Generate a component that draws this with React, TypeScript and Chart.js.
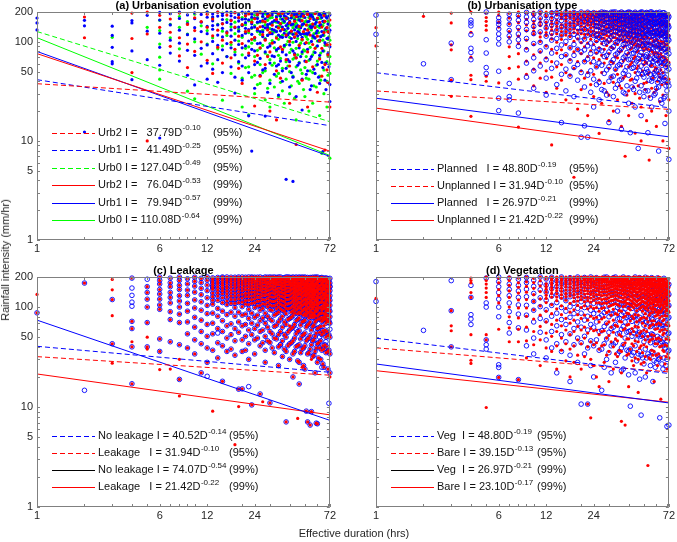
import React, { useEffect, useRef } from 'react';
import { Chart, registerables } from 'chart.js';

Chart.register(...registerables);

const FONT = "'Liberation Sans', Arial, Helvetica, sans-serif";
const TEXT = '#262626';
const FRAME = '#808080';
const RED = '#ff0000';
const BLUE = '#0000ff';
const GREEN = '#00ff00';

// Axis ticks (log–log)
const durationTicks = [1, 6, 12, 24, 72];
const durationMarks = [1, 2, 3, 4, 5, 6, 7, 8, 9, 10, 12, 20, 24, 30, 40, 50, 60, 70, 72];
const intensityTicks = [1, 5, 10, 50, 100, 200];
const intensityMarks = [1, 2, 3, 4, 5, 6, 7, 8, 9, 10, 20, 30, 40, 50, 60, 70, 80, 90, 100, 200];

// Each row: [duration (hrs), intensity values (mm/hr)...]
type Row = number[];

// (a) Urbanisation evolution
const urb2Rows: Row[] = [
  [2, 178, 110], [4, 195, 108, 49], [5, 200, 120, 10], [6, 185, 140], [7, 170, 125, 90],
  [8, 195, 110, 72], [9, 150, 95, 55], [10, 175, 130, 80], [11, 160, 100], [12, 190, 140, 65],
  [13, 170, 115, 48], [14, 199, 131, 88], [15, 152, 104, 61], [16, 186, 123], [17, 164, 99, 69],
  [18, 197, 141, 84], [19, 176, 114, 54], [20, 149, 96, 38], [21, 183, 127], [22, 191, 129, 77],
  [23, 158, 106], [24, 171, 111, 22.5, 64], [25, 188, 136, 73], [26, 199, 142, 87, 45],
  [27, 162, 118], [28, 159, 104, 59], [29, 181, 132, 71], [30, 186, 124, 20, 79],
  [31, 147, 97], [33, 169, 109, 51, 16.3], [34, 192, 138], [35, 153, 89, 43], [36, 194, 134, 84],
  [38, 173, 117, 66], [40, 156, 101, 57, 24], [41, 185, 128], [43, 161, 112, 74], [44, 179, 121, 9.2, 69],
  [46, 196, 143, 92], [48, 164, 106, 41], [49, 182, 127], [51, 148, 98, 63], [52, 189, 131, 79, 22],
  [54, 171, 117], [56, 151, 94, 56], [58, 193, 139, 86], [60, 174, 114, 31], [62, 157, 103, 67],
  [64, 141, 86, 45], [66, 184, 124], [67, 161, 8.1, 59], [69, 139, 93, 52], [70, 126, 74, 39],
  [72, 166, 94, 22],
];
const urb1Rows: Row[] = [
  [1, 174, 155, 132], [2, 165, 145, 12.3], [3, 144, 116, 88, 63, 60], [4, 164, 155, 81, 41.5],
  [5, 185, 128, 66], [6, 198, 166, 122, 88, 58, 10.7], [7, 192, 148, 104, 77], [8, 200, 172, 131, 97, 64],
  [9, 187, 153, 118, 82, 46], [10, 196, 171, 139, 107, 73, 36.7], [11, 189, 158, 127, 86, 57],
  [12, 200, 177, 143, 121, 93, 61, 42], [13, 191, 163, 134, 101, 76, 53], [14, 199, 182, 148, 117, 92, 66, 39],
  [15, 194, 168, 137, 112, 83, 49], [16, 200, 157, 126, 96, 71], [17, 183, 151, 114, 87, 56],
  [18, 197, 176, 139, 104, 74, 44, 30.4], [19, 188, 162, 128, 94, 63], [20, 200, 169, 146, 116, 87, 57, 41],
  [21, 184, 156, 122, 91, 69], [22, 199, 167, 133, 102, 73, 49, 17.9], [23, 190, 152, 119, 84, 7.9],
  [24, 200, 174, 141, 109, 81, 59, 34], [25, 187, 158, 96, 62], [26, 196, 161, 127, 97, 68, 46],
  [27, 181, 143, 113, 52], [28, 200, 171, 138, 106, 79, 54, 17.8], [29, 192, 149, 88, 31],
  [30, 186, 152, 121, 91, 61, 38], [31, 198, 134, 72], [32, 200, 164, 131, 99, 71, 47],
  [33, 178, 142, 83, 57], [34, 191, 157, 117, 86, 59, 29], [35, 196, 129, 64],
  [36, 200, 169, 141, 111, 79, 51, 40], [37, 184, 122, 92], [38, 179, 146, 113, 74, 54, 4.1],
  [39, 193, 137, 66], [40, 197, 161, 124, 93, 63, 35], [41, 175, 108, 49], [42, 200, 151, 119, 81, 44, 3.9],
  [43, 188, 132, 76], [44, 186, 141, 101, 69, 28], [45, 194, 115, 58], [46, 200, 166, 124, 87, 61],
  [47, 181, 139, 71], [48, 191, 149, 111, 79, 42, 20.5], [50, 176, 134, 96, 64], [51, 197, 121, 47],
  [52, 200, 159, 119, 84, 51], [54, 182, 143, 67, 33], [55, 187, 139, 101, 71, 36], [57, 168, 112, 53],
  [58, 195, 151, 109, 78, 48], [60, 171, 129, 91, 59], [61, 189, 102, 44], [62, 190, 146, 104, 73, 38],
  [64, 176, 127, 62], [65, 161, 117, 81, 55, 7.8], [67, 193, 98, 41], [68, 179, 136, 94, 61, 33],
  [70, 151, 109, 76, 39], [71, 183, 124, 56], [72, 188, 131, 89, 37, 25],
];
const urb1UpperRows: Row[] = [
  [13, 178, 146], [15, 184, 153], [17, 197, 166, 132], [19, 174, 141], [21, 196, 170, 137], [23, 177, 139],
  [25, 199, 172, 131], [27, 193, 164, 126], [29, 178, 139, 116], [31, 187, 158, 121], [33, 197, 163, 127],
  [35, 181, 151, 112], [37, 198, 161, 133], [39, 172, 153, 118], [41, 191, 148, 128], [43, 199, 166, 111],
  [45, 179, 146, 127], [47, 198, 162, 119], [49, 186, 152, 121], [53, 191, 161, 124], [56, 178, 144, 115],
  [59, 196, 158, 122], [63, 186, 149, 113], [66, 197, 162, 126], [69, 174, 139, 108],
];
const urb0Rows: Row[] = [
  [3, 111], [5, 140], [6, 165, 130, 95, 70, 52, 42], [7, 150, 110], [8, 180, 140, 85], [9, 160, 120, 31.8],
  [10, 190, 100, 26.6], [11, 145, 75], [12, 200, 130, 95], [13, 175, 110, 60], [14, 150, 85],
  [15, 195, 128, 91, 25.8], [16, 168, 116, 71], [17, 200, 142, 94, 48], [18, 158, 121, 79],
  [19, 189, 134, 102, 61], [20, 176, 148, 111, 74, 43, 22], [21, 193, 127, 86, 55],
  [22, 199, 163, 124, 89, 56, 18.3], [23, 171, 137, 97, 44], [24, 186, 146, 104, 71, 46, 30],
  [25, 197, 155, 82, 37], [26, 200, 158, 119, 86, 59, 38], [27, 178, 131, 92, 49],
  [28, 191, 149, 108, 77, 51, 26], [29, 165, 117, 73, 34], [30, 174, 136, 96, 66, 41, 22],
  [31, 196, 152, 103, 58], [32, 199, 161, 126, 87, 61, 35], [33, 182, 128, 81, 45],
  [34, 186, 144, 106, 73, 48, 28], [35, 170, 113, 68, 39], [36, 194, 156, 116, 83, 54, 32],
  [37, 177, 132, 89, 24], [38, 169, 129, 94, 63, 42], [39, 198, 143, 101, 57],
  [40, 200, 151, 111, 78, 50, 30], [41, 173, 122, 84, 36], [42, 181, 139, 99, 67, 45],
  [43, 192, 147, 69, 27], [44, 195, 154, 119, 86, 56, 16.3], [45, 166, 108, 74, 40],
  [46, 171, 131, 93, 62, 38], [47, 188, 141, 97, 52], [48, 189, 146, 104, 76, 48],
  [49, 177, 125, 83, 33], [50, 200, 159, 117, 81, 55, 28], [51, 163, 112, 71, 43],
  [53, 176, 136, 97, 65, 42, 20], [54, 192, 148, 88, 51], [56, 189, 151, 109, 74, 49, 24],
  [57, 171, 121, 79, 36], [59, 166, 126, 89, 58, 35], [60, 198, 143, 102, 64],
  [62, 184, 139, 101, 69, 45, 18], [63, 172, 114, 77, 41], [64, 7.5], [66, 156, 116, 81, 52, 30],
  [67, 187, 133, 92, 61], [69, 174, 129, 93, 63, 40, 22], [70, 161, 106, 72, 46],
  [72, 146, 104, 71, 60, 48, 6.7],
];
const urb0UpperRows: Row[] = [
  [21, 171, 149], [23, 194, 161], [25, 176, 127], [27, 196, 159], [29, 187, 142], [31, 176, 129],
  [33, 199, 158, 112], [35, 188, 142], [37, 197, 157], [39, 174, 121], [41, 193, 151], [43, 172, 121],
  [45, 189, 138], [47, 167, 119], [49, 199, 152], [52, 188, 147, 106], [55, 179, 132], [58, 194, 151, 111],
  [61, 172, 124], [65, 191, 146, 104], [68, 182, 137], [71, 195, 151, 112],
];

// (b) Urbanisation type
const plannedRows: Row[] = [
  [1, 186, 119], [2, 60], [3, 97, 41.5], [4, 165, 155, 145, 118, 86, 78, 66], [5, 200, 105, 77, 55, 48],
  [6, 175, 160, 150, 135, 120, 108, 95, 50.5, 27, 20.2], [7, 190, 170, 150, 130, 115, 100, 38, 28, 26],
  [8, 185, 165, 140, 120, 105, 90, 19.1], [9, 198, 178, 157, 133, 108, 83, 61, 44],
  [10, 191, 168, 143, 121, 96, 69, 51, 34], [11, 200, 174, 151, 126, 99, 81, 57],
  [12, 184, 161, 138, 114, 89, 66, 43, 29], [13, 196, 172, 148, 123, 104, 77, 54],
  [14, 199, 179, 156, 131, 108, 86, 61, 37], [15, 188, 164, 141, 117, 93, 71, 47, 15.3],
  [16, 200, 176, 148, 127, 101, 74, 53, 32], [17, 186, 159, 134, 111, 87, 64, 45],
  [18, 198, 171, 146, 119, 94, 73, 55, 28], [19, 191, 166, 139, 112, 84, 59, 41],
  [20, 200, 178, 154, 128, 102, 79, 49, 10.9], [21, 183, 161, 133, 107, 83, 63, 35, 14.2],
  [22, 199, 169, 144, 117, 91, 67, 46, 10.9], [23, 192, 164, 126, 97, 76, 51, 31],
  [24, 197, 174, 149, 116, 87, 63, 42, 22], [25, 186, 158, 131, 103, 79, 56, 37],
  [26, 194, 169, 141, 111, 84, 61, 39, 26], [27, 200, 176, 137, 106, 81, 58, 33],
  [28, 198, 181, 153, 124, 96, 71, 48, 32], [29, 183, 157, 128, 99, 73, 52, 29],
  [30, 191, 159, 132, 104, 79, 56, 40, 15.3], [31, 199, 171, 141, 113, 86, 62, 44],
  [32, 200, 174, 146, 116, 89, 66, 45, 28], [33, 187, 158, 127, 98, 74, 53, 34],
  [34, 186, 161, 129, 101, 77, 57, 37, 20], [35, 196, 168, 137, 107, 82, 59, 41],
  [36, 200, 171, 139, 109, 86, 63, 42, 13.1], [37, 184, 153, 122, 94, 69, 48, 31],
  [38, 191, 156, 124, 96, 72, 51, 30], [39, 197, 166, 134, 104, 78, 56, 36],
  [40, 200, 174, 144, 113, 88, 66, 46, 24], [41, 181, 149, 119, 91, 67, 12.1],
  [42, 186, 159, 128, 99, 76, 54, 35], [43, 194, 164, 131, 102, 77, 55, 33],
  [44, 199, 169, 141, 107, 83, 61, 40, 22], [45, 178, 146, 116, 87, 64, 43],
  [46, 191, 151, 117, 91, 68, 48, 8.4], [47, 196, 162, 129, 98, 73, 51, 31],
  [48, 200, 166, 134, 103, 78, 57, 36, 18], [49, 183, 151, 121, 92, 68, 47],
  [50, 181, 144, 113, 86, 62, 44, 28], [51, 193, 158, 126, 96, 71, 49, 32],
  [52, 198, 163, 128, 99, 74, 53], [53, 195, 159, 124, 94, 70, 50, 32, 12.1],
  [54, 176, 142, 112, 84, 61, 41], [55, 189, 154, 121, 92, 67, 47, 27],
  [56, 200, 169, 136, 104, 79, 58, 40, 22], [57, 182, 148, 116, 87, 63, 43],
  [58, 193, 157, 123, 93, 69, 48, 29], [59, 186, 151, 117, 89, 66, 46, 30],
  [60, 197, 161, 128, 97, 73, 51, 34], [61, 178, 143, 111, 83, 60, 39],
  [62, 194, 159, 126, 94, 71, 52, 35, 7.9], [63, 183, 147, 115, 86, 62, 42],
  [64, 190, 154, 121, 91, 66, 45, 26], [65, 174, 141, 109, 81, 58, 40, 24],
  [66, 196, 157, 123, 93, 68, 47], [67, 181, 145, 113, 84, 61, 41, 27],
  [68, 189, 151, 116, 86, 63, 44, 28, 15], [69, 171, 137, 106, 79, 56, 36],
  [70, 166, 131, 99, 73, 51, 32], [71, 185, 148, 114, 83, 59, 39],
  [72, 179, 141, 104, 76, 53, 36, 20, 6.5],
];
const plannedUpperRows: Row[] = [
  [25, 172, 144, 117], [27, 188, 157, 121], [29, 196, 170, 142], [31, 185, 155, 127], [33, 200, 172, 141],
  [35, 181, 152, 122], [37, 195, 167, 137], [39, 183, 151, 120], [41, 198, 166, 134], [43, 178, 148, 117],
  [45, 192, 161, 130], [47, 181, 148, 115], [49, 199, 167, 134], [51, 176, 142, 111], [53, 185, 152, 119],
  [55, 200, 169, 135], [57, 192, 159, 125], [59, 171, 139, 107], [61, 189, 156, 122], [63, 199, 164, 131],
  [65, 186, 153, 120], [67, 197, 163, 128], [69, 190, 155, 121], [71, 172, 138, 106],
];
const unplannedRows: Row[] = [
  [1, 139, 91], [2, 181], [3, 195, 155, 93, 83, 41, 28.2], [4, 200, 125, 70, 46, 41.5, 17.7],
  [5, 195, 176, 161, 146, 131, 45, 40], [6, 200, 186, 158, 141, 38.5],
  [7, 194, 174, 152, 127, 111, 89, 71, 54], [8, 199, 181, 156, 133, 114, 96, 76, 56, 42, 13.8],
  [9, 196, 169, 148, 129, 104, 86, 64, 47], [10, 200, 184, 161, 139, 119, 94, 74, 53, 36],
  [11, 191, 171, 146, 123, 101, 79, 61, 43], [12, 199, 179, 158, 137, 116, 91, 69, 51, 31],
  [13, 194, 176, 152, 131, 107, 84, 63, 44, 9.1], [14, 200, 186, 166, 143, 121, 99, 77, 56, 34],
  [15, 189, 171, 149, 127, 106, 83, 59, 41], [16, 198, 181, 162, 139, 117, 94, 73, 49, 26],
  [17, 193, 174, 156, 134, 113, 87, 66, 46], [18, 200, 184, 164, 146, 124, 101, 79, 54, 4.3],
  [19, 191, 169, 151, 131, 107, 84, 63, 21], [20, 199, 186, 166, 144, 121, 98, 76, 51, 33],
  [21, 196, 176, 154, 133, 109, 89, 64, 43], [22, 200, 183, 167, 147, 119, 97, 71, 49, 18],
  [23, 189, 172, 149, 127, 106, 81, 61, 37], [24, 198, 184, 163, 141, 117, 94, 69, 47, 28],
  [25, 194, 177, 151, 124, 101, 77, 56], [26, 200, 186, 161, 137, 113, 87, 66, 41, 11.9],
  [27, 191, 169, 144, 121, 96, 73, 49, 24], [28, 199, 181, 156, 131, 109, 84, 61, 38],
  [29, 187, 163, 139, 116, 92, 68, 31], [30, 196, 176, 149, 126, 99, 76, 54, 29, 16],
  [31, 200, 171, 142, 118, 88, 63, 44], [32, 198, 184, 159, 134, 111, 86, 61, 39, 20],
  [33, 189, 167, 147, 122, 97, 71, 52], [34, 192, 171, 144, 119, 94, 69, 47, 26],
  [35, 199, 178, 153, 128, 104, 79, 36], [36, 200, 181, 156, 129, 106, 81, 57, 34, 14],
  [37, 186, 162, 137, 113, 88, 64, 43], [38, 194, 169, 146, 117, 91, 67, 45, 7.0],
  [39, 199, 176, 151, 123, 99, 74, 29], [40, 200, 179, 154, 127, 103, 77, 56, 32, 18],
  [41, 188, 164, 136, 109, 84, 59, 41], [42, 191, 166, 141, 113, 87, 62, 42, 24],
  [43, 197, 173, 147, 121, 93, 68, 35], [44, 200, 176, 149, 123, 97, 71, 49, 30, 12],
  [45, 184, 158, 131, 103, 79, 54], [46, 186, 161, 133, 106, 81, 57, 36],
  [47, 196, 171, 144, 116, 89, 65, 27], [48, 199, 174, 147, 119, 93, 67, 46, 22, 10],
  [49, 181, 154, 127, 99, 74, 51], [50, 191, 164, 136, 107, 82, 59, 38],
  [51, 197, 168, 141, 114, 88, 63, 33], [52, 200, 171, 143, 111, 85, 61, 39, 16],
  [53, 183, 152, 124, 96, 69, 47], [54, 186, 156, 126, 97, 73, 49, 28, 6.4],
  [55, 194, 166, 137, 108, 83, 57], [56, 199, 169, 139, 109, 81, 58, 34, 20],
  [57, 178, 148, 119, 92, 66, 43], [58, 191, 161, 129, 101, 74, 51, 31],
  [59, 196, 164, 133, 104, 78, 55], [60, 200, 166, 134, 106, 77, 54, 33, 14],
  [61, 181, 149, 117, 89, 63, 40], [62, 189, 157, 126, 97, 71, 48],
  [63, 186, 151, 121, 91, 67, 44, 25], [64, 197, 163, 131, 102, 76, 52],
  [65, 176, 144, 113, 84, 59, 37], [66, 194, 161, 127, 99, 71, 49, 29, 10],
  [67, 183, 149, 118, 89, 63], [68, 191, 156, 124, 94, 68, 43],
  [69, 174, 141, 109, 81, 57, 38, 18], [70, 187, 153, 121, 91, 65],
  [71, 179, 144, 112, 84, 58, 39], [72, 189, 151, 116, 87, 62, 42, 26, 8.4],
];
const unplannedUpperRows: Row[] = [
  [10, 192, 151, 128], [11, 199, 158, 112], [12, 187, 147, 124], [13, 200, 163, 141, 118], [14, 191, 155, 132],
  [15, 197, 178, 138, 116], [16, 188, 171, 149, 127], [17, 199, 184, 146, 122], [18, 192, 173, 155, 135],
  [19, 196, 180, 160, 121], [20, 190, 176, 154, 132], [21, 200, 187, 164, 141, 119], [22, 193, 175, 156, 131],
  [23, 198, 181, 160, 138, 115], [24, 191, 173, 151, 128], [25, 200, 186, 163, 138, 112], [26, 194, 172, 149, 124],
  [27, 199, 181, 157, 132, 108], [28, 190, 168, 143, 119], [29, 198, 177, 151, 127, 104], [30, 187, 163, 138, 113],
  [31, 195, 183, 156, 129, 103], [32, 191, 172, 146, 122], [33, 199, 181, 158, 135, 110], [34, 184, 160, 132, 107],
  [35, 192, 167, 141, 116], [36, 197, 173, 147, 118], [37, 200, 176, 150, 126, 101], [38, 185, 158, 131, 105],
  [39, 192, 166, 140, 112], [40, 191, 167, 141, 115], [41, 198, 175, 150, 123, 97], [42, 182, 157, 128, 100],
  [43, 189, 162, 134, 108], [44, 193, 166, 137, 110], [45, 199, 173, 145, 117, 91], [46, 176, 148, 121, 94],
  [47, 188, 160, 131, 103], [48, 192, 162, 133, 106], [49, 197, 169, 141, 112, 87], [50, 179, 150, 122, 95],
  [52, 186, 157, 127, 99], [53, 196, 166, 137, 109, 84], [55, 181, 151, 122, 95], [57, 190, 160, 129, 101, 78],
  [59, 176, 146, 118, 90], [61, 194, 163, 132, 103, 77], [63, 171, 141, 113, 86], [65, 187, 156, 125, 97, 71],
  [67, 192, 161, 129, 100], [69, 182, 150, 121, 93, 69], [71, 193, 161, 128, 98],
];

// (c) Leakage: events recorded at both kinds of site, and at one kind only
const leakBothRows: Row[] = [
  [1, 87.6], [2, 174], [3, 119, 43], [4, 195, 72, 61, 40, 17.1], [5, 160, 140, 120, 100, 70, 40],
  [6, 200, 185, 170, 150, 135, 120, 105, 95, 48, 36], [7, 195, 175, 160, 140, 125, 110, 90, 75, 45],
  [8, 200, 185, 165, 150, 130, 115, 100, 85, 70, 42, 18.9], [9, 192, 171, 148, 131, 109, 91, 71, 54, 39],
  [10, 199, 181, 162, 141, 118, 98, 79, 63, 47, 34], [11, 194, 176, 154, 133, 113, 93, 74, 57, 43, 22],
  [12, 200, 186, 166, 146, 124, 104, 86, 67, 51, 39, 28], [13, 189, 169, 151, 127, 107, 87, 69, 54, 37],
  [14, 198, 179, 159, 139, 117, 97, 81, 61, 44, 31], [15, 196, 174, 156, 136, 111, 91, 73, 57, 41, 18.1],
  [16, 200, 184, 163, 144, 126, 106, 84, 65, 49, 36], [17, 191, 171, 149, 129, 109, 89, 68, 53, 38],
  [18, 199, 181, 161, 138, 119, 99, 81, 61, 46, 33], [19, 194, 174, 153, 131, 111, 89, 71, 56, 15.1],
  [20, 200, 184, 166, 146, 123, 101, 83, 65, 47, 36, 15.2], [21, 188, 169, 149, 127, 107, 85, 67, 51, 37],
  [22, 200, 181, 159, 137, 117, 95, 77, 59, 43, 30], [23, 196, 174, 153, 129, 109, 87, 69, 53, 10.5],
  [24, 199, 186, 164, 141, 121, 99, 79, 61, 47, 34], [25, 191, 169, 147, 125, 103, 83, 66, 49],
  [26, 200, 179, 157, 135, 115, 93, 73, 57, 41, 13.5], [27, 187, 163, 141, 119, 97, 78, 59, 44],
  [28, 194, 176, 151, 131, 107, 87, 69, 51, 37, 28], [29, 199, 169, 146, 122, 101, 81, 63, 46],
  [30, 200, 182, 161, 137, 116, 94, 76, 57, 44, 11], [31, 186, 163, 139, 114, 93, 73, 54, 39],
  [32, 191, 171, 147, 126, 103, 83, 64, 49, 35], [33, 198, 176, 152, 129, 106, 86, 66, 48],
  [34, 200, 179, 155, 133, 111, 89, 71, 53, 40, 26], [35, 189, 166, 141, 117, 96, 76, 57, 42],
  [36, 195, 173, 149, 127, 104, 81, 63, 46, 32], [37, 184, 161, 137, 113, 91, 71, 53, 38],
  [38, 200, 179, 154, 131, 107, 86, 67, 50, 36, 7.1], [39, 192, 167, 143, 119, 96, 75, 56, 41],
  [40, 189, 169, 144, 121, 97, 77, 59, 43, 30], [41, 197, 173, 149, 123, 99, 79, 61, 44],
  [42, 200, 177, 153, 127, 103, 82, 63, 46, 34, 20], [43, 183, 158, 134, 109, 87, 67, 49, 36],
  [44, 188, 164, 141, 116, 93, 73, 54, 40], [45, 196, 171, 146, 120, 97, 75, 57, 41, 29],
  [46, 200, 174, 151, 124, 101, 78, 58, 42, 28, 17], [47, 184, 159, 133, 108, 86, 66, 48, 35],
  [48, 191, 166, 139, 114, 91, 71, 52, 38], [49, 197, 169, 143, 117, 94, 72, 53, 39, 26],
  [50, 200, 173, 147, 121, 97, 74, 55, 41, 24], [51, 181, 154, 129, 104, 82, 63, 46, 9.1],
  [52, 186, 161, 134, 109, 87, 66, 48, 34, 7.1], [53, 193, 164, 138, 112, 89, 68, 49, 35],
  [54, 198, 171, 144, 118, 94, 71, 52, 38, 6.6], [55, 179, 152, 126, 101, 79, 59, 42, 9.0],
  [56, 189, 161, 133, 107, 84, 64, 46, 32], [57, 194, 166, 137, 111, 87, 66, 47, 33],
  [58, 200, 171, 146, 118, 92, 71, 51, 36, 22], [59, 176, 149, 122, 97, 74, 55, 39, 6.9],
  [60, 186, 157, 129, 104, 81, 61, 43, 28, 6.8], [61, 193, 163, 136, 108, 84, 62, 44, 31],
  [62, 181, 151, 124, 98, 76, 56, 39], [63, 196, 166, 139, 111, 86, 64, 46, 30],
  [64, 174, 146, 119, 94, 72, 53, 37], [65, 188, 158, 131, 103, 79, 58, 41, 27],
  [66, 180, 151, 123, 97, 75, 55, 38, 25], [67, 192, 161, 133, 105, 81, 59, 42],
  [68, 171, 143, 116, 91, 69, 50, 35], [69, 189, 159, 129, 101, 77, 57, 40],
  [70, 178, 147, 119, 93, 71, 52, 36, 24], [71, 184, 153, 124, 96, 73, 53, 37],
  [72, 174, 146, 117, 91, 69, 50, 34, 22],
];
const leakBothUpperRows: Row[] = [
  [13, 196, 178, 160, 138, 117], [14, 189, 170, 149, 129], [15, 200, 185, 165, 146, 124], [16, 192, 174, 154, 135, 115],
  [17, 199, 181, 160, 139, 119], [18, 191, 170, 150, 129, 109], [19, 200, 185, 164, 142, 121], [20, 192, 175, 156, 134, 112],
  [21, 199, 179, 158, 137, 116], [22, 191, 170, 148, 127, 106], [23, 200, 184, 163, 141, 119], [24, 193, 176, 153, 131, 110],
  [25, 199, 181, 158, 136, 114], [26, 190, 169, 147, 125, 104], [27, 196, 175, 152, 130, 108], [28, 200, 185, 163, 141, 118],
  [29, 191, 178, 157, 133, 111], [30, 193, 171, 149, 127, 105], [31, 199, 175, 152, 126, 103], [32, 200, 181, 159, 136, 114],
  [33, 188, 166, 141, 117, 96], [34, 191, 168, 144, 122, 100], [35, 200, 178, 154, 129, 107], [36, 186, 161, 138, 115, 93],
  [37, 197, 173, 149, 125, 102], [38, 191, 167, 142, 119, 97], [39, 200, 180, 155, 131, 108], [40, 199, 179, 155, 132, 109],
  [41, 186, 162, 136, 111, 89], [42, 190, 165, 140, 116, 92], [43, 196, 171, 146, 122, 98], [44, 200, 176, 152, 127, 104],
  [45, 185, 159, 133, 109, 86], [46, 190, 163, 137, 112, 89], [47, 197, 171, 146, 121, 97], [48, 200, 177, 152, 126, 103],
  [49, 184, 156, 130, 106, 83], [50, 190, 161, 134, 109, 86], [51, 195, 168, 141, 116, 92], [52, 198, 173, 147, 121, 97],
  [53, 182, 152, 125, 100, 78], [54, 189, 158, 131, 106, 83], [55, 196, 167, 140, 113, 89], [56, 199, 174, 146, 120, 96],
  [57, 184, 153, 127, 101, 79], [58, 190, 161, 133, 106, 82], [59, 197, 169, 141, 115, 90], [60, 200, 172, 144, 117, 93],
  [61, 181, 151, 124, 98, 76], [62, 194, 164, 136, 111, 87], [63, 186, 154, 127, 100, 78], [64, 198, 168, 140, 113, 88],
  [65, 177, 149, 121, 96, 74], [66, 195, 165, 137, 110, 86], [67, 183, 152, 125, 99, 77], [68, 196, 164, 136, 109, 85],
  [69, 178, 147, 120, 95, 73], [70, 193, 161, 131, 105, 82], [71, 171, 141, 114, 90, 70], [72, 194, 160, 130, 104, 80],
];
const noLeakOnlyRows: Row[] = [
  [2, 14.7], [4, 155, 131, 112, 102], [5, 190], [12, 20.3], [13, 160], [14, 55], [22, 16], [28, 75],
  [35, 42], [44, 60], [50, 80], [62, 50], [64, 25], [68, 45], [71, 10.9], [72, 160, 60],
];
const leakOnlyRows: Row[] = [
  [1, 134], [3, 189, 149, 82, 27.5], [4, 45], [5, 50, 38], [6, 23.7], [7, 24], [8, 12.9, 30], [13, 9.1],
  [18, 4.2], [19, 10.1], [27, 11.3], [30, 45], [40, 65], [45, 7.7], [48, 25], [55, 30], [60, 110],
  [66, 65], [72, 105, 80, 20],
];

// (d) Vegetation
const vegRows: Row[] = [
  [1, 180, 114], [2, 58.5], [3, 184, 92, 40], [4, 165, 125, 84, 76, 67], [5, 195, 110, 100, 47, 42, 38],
  [6, 200, 180, 160, 140, 120, 100, 80, 26.5, 24.9, 19.8], [7, 195, 170, 150, 130, 110, 90, 70, 55],
  [8, 190, 165, 145, 125, 105, 85, 62, 18.8], [9, 198, 176, 151, 127, 104, 83, 59, 41],
  [10, 186, 161, 137, 114, 93, 71, 49, 34], [11, 200, 173, 149, 124, 101, 77, 56],
  [12, 191, 166, 141, 117, 94, 73, 47, 31], [13, 199, 177, 153, 129, 104, 81, 57, 39],
  [14, 184, 161, 134, 111, 87, 65, 43, 22], [15, 200, 174, 149, 126, 99, 75, 53, 36],
  [16, 189, 164, 139, 116, 91, 67, 45], [17, 197, 177, 151, 127, 101, 79, 54, 33, 18],
  [18, 186, 159, 136, 109, 86, 61, 42], [19, 200, 173, 147, 121, 97, 71, 49, 28],
  [20, 191, 164, 139, 113, 87, 63, 44, 10.7], [21, 198, 177, 151, 123, 99, 74, 51, 34],
  [22, 184, 159, 131, 107, 81, 59, 39, 10.7], [23, 200, 171, 146, 117, 93, 67, 46, 26],
  [24, 189, 166, 137, 109, 86, 63, 41, 20], [25, 197, 174, 149, 121, 94, 71, 47],
  [26, 183, 156, 129, 102, 79, 57, 37], [27, 191, 163, 134, 107, 83, 58, 38, 14.7],
  [28, 199, 170, 143, 114, 88, 64, 43, 25], [29, 200, 176, 147, 119, 93, 69, 48, 30],
  [30, 186, 161, 131, 104, 80, 56, 35], [31, 189, 164, 137, 111, 85, 61, 41, 22],
  [32, 197, 169, 141, 113, 87, 63, 42], [33, 200, 173, 146, 117, 91, 67, 44, 28],
  [34, 181, 154, 127, 99, 76, 54, 34], [35, 186, 157, 131, 103, 77, 55, 36],
  [36, 194, 166, 138, 109, 84, 60, 39, 23], [37, 200, 171, 141, 113, 89, 64, 42, 24],
  [38, 178, 149, 121, 96, 71, 49, 31], [39, 191, 159, 131, 103, 79, 56, 37],
  [40, 196, 164, 134, 106, 81, 57, 36, 21], [41, 188, 161, 133, 104, 79, 58, 38, 10.2],
  [42, 181, 151, 123, 97, 72, 51, 33], [43, 193, 163, 133, 105, 79, 55, 35],
  [44, 200, 167, 137, 111, 83, 59, 41, 22], [45, 176, 147, 118, 93, 69, 47, 29],
  [46, 189, 158, 128, 101, 76, 53, 34], [47, 197, 164, 133, 104, 79, 56, 36, 19],
  [48, 184, 154, 127, 97, 73, 51, 33, 8.3], [49, 192, 159, 129, 101, 75, 52, 31],
  [50, 173, 143, 116, 89, 66, 45, 27], [51, 199, 166, 136, 107, 81, 58, 38, 20],
  [52, 187, 154, 124, 96, 71, 49, 31], [53, 194, 161, 131, 101, 76, 53, 34],
  [54, 181, 149, 119, 93, 69, 49, 32], [55, 171, 141, 113, 87, 64, 44, 26],
  [56, 197, 163, 131, 102, 77, 54, 36], [57, 193, 161, 129, 101, 75, 53, 35, 18],
  [58, 184, 151, 121, 93, 69, 48, 29], [59, 169, 139, 111, 85, 62, 42, 25],
  [60, 181, 147, 117, 89, 65, 45, 28], [61, 196, 161, 128, 99, 73, 51, 33],
  [62, 187, 153, 122, 94, 69, 47, 30], [63, 191, 157, 125, 97, 71, 49, 31, 7.8],
  [64, 172, 141, 112, 86, 62, 43], [65, 183, 149, 118, 91, 66, 45, 27],
  [66, 176, 143, 111, 85, 61, 41, 24], [67, 194, 158, 125, 95, 70, 48, 31],
  [68, 167, 134, 105, 80, 57, 39], [69, 181, 147, 115, 87, 63, 42, 26],
  [70, 187, 151, 119, 91, 67, 45, 30, 6.4], [71, 163, 131, 102, 77, 54, 36],
  [72, 169, 134, 104, 79, 55, 37, 6.6],
];
const bareRows: Row[] = [
  [1, 122], [3, 92, 65, 58, 40], [4, 195, 185, 175, 140, 125, 53, 29.4, 27.3],
  [5, 200, 185, 170, 155, 140, 125, 53, 47, 9.9], [6, 195, 175, 150, 130, 110, 60, 19.8],
  [7, 200, 185, 165, 145, 125, 100, 80, 62, 45], [8, 195, 175, 158, 138, 118, 98, 78, 60, 45, 18.8],
  [9, 199, 179, 161, 141, 119, 98, 81, 63, 46, 31], [10, 194, 176, 154, 133, 114, 94, 76, 57, 42],
  [11, 200, 183, 163, 143, 121, 103, 83, 64, 47, 26], [12, 191, 171, 151, 131, 111, 91, 71, 55, 39],
  [13, 200, 186, 166, 147, 126, 106, 86, 67, 51, 36], [14, 196, 176, 156, 136, 116, 96, 74, 57, 41, 24],
  [15, 199, 184, 164, 144, 123, 103, 84, 65, 49, 37], [16, 193, 177, 159, 137, 117, 97, 77, 59, 43, 29],
  [17, 200, 186, 169, 149, 129, 109, 89, 69, 53, 38, 20], [18, 191, 174, 154, 134, 114, 94, 74, 57, 41, 28],
  [19, 199, 184, 166, 146, 126, 104, 84, 64, 47, 33], [20, 196, 179, 159, 139, 119, 99, 77, 59, 43, 24],
  [21, 200, 186, 167, 146, 124, 103, 83, 63, 49, 32], [22, 193, 176, 156, 136, 116, 96, 74, 55, 40, 10.7],
  [23, 200, 184, 164, 144, 123, 101, 81, 61, 45, 30, 7.8], [24, 196, 179, 159, 137, 117, 97, 77, 58, 42, 26],
  [25, 199, 186, 166, 146, 121, 99, 79, 59, 44, 20], [26, 191, 174, 154, 133, 111, 91, 71, 53, 38, 16],
  [27, 200, 183, 163, 141, 119, 97, 76, 57, 41], [28, 197, 186, 164, 143, 121, 99, 79, 58, 42, 28],
  [29, 194, 176, 153, 131, 109, 88, 68, 49, 33], [30, 200, 179, 157, 135, 113, 91, 71, 52, 36, 18],
  [31, 189, 171, 149, 127, 104, 83, 63, 45], [32, 199, 181, 161, 139, 117, 95, 74, 56, 40, 24],
  [33, 196, 176, 154, 131, 108, 86, 66, 48, 34], [34, 190, 173, 151, 129, 106, 84, 64, 46, 32],
  [35, 200, 183, 161, 138, 115, 92, 72, 53, 37], [36, 199, 181, 159, 137, 113, 91, 71, 51, 36, 22, 7.2],
  [37, 187, 168, 146, 123, 101, 79, 59, 42], [38, 193, 171, 149, 126, 103, 81, 61, 44, 6.6],
  [39, 200, 179, 156, 132, 109, 87, 66, 48, 33], [40, 198, 180, 157, 133, 108, 86, 67, 48, 34, 16],
  [41, 185, 164, 141, 117, 94, 73, 54, 38], [42, 196, 174, 151, 126, 103, 81, 61, 43, 29],
  [43, 191, 169, 146, 121, 99, 77, 57, 41, 26], [44, 200, 178, 155, 131, 106, 84, 64, 46, 31],
  [45, 186, 163, 139, 114, 92, 71, 52, 36], [46, 199, 177, 153, 129, 105, 83, 63, 45, 30, 14],
  [47, 193, 169, 144, 119, 96, 74, 55, 39], [48, 197, 172, 148, 123, 99, 77, 57, 41, 27],
  [49, 187, 163, 139, 115, 91, 69, 51, 35], [50, 200, 176, 151, 126, 101, 79, 59, 42, 28],
  [51, 184, 159, 134, 109, 86, 65, 47, 32], [52, 198, 173, 149, 123, 99, 77, 57, 40, 22],
  [53, 191, 167, 141, 116, 93, 71, 51, 2.6], [54, 179, 156, 131, 106, 83, 62, 45, 31],
  [55, 186, 161, 136, 111, 87, 65, 47, 30], [56, 197, 171, 146, 119, 95, 73, 53, 37],
  [57, 189, 164, 138, 113, 89, 67, 48, 33], [58, 196, 170, 145, 119, 95, 73, 52, 36, 18],
  [59, 181, 155, 129, 104, 81, 60, 43], [60, 192, 166, 139, 113, 89, 67, 48, 33],
  [61, 183, 157, 131, 106, 83, 61, 43, 26], [62, 199, 171, 144, 117, 92, 69, 49, 34],
  [63, 177, 151, 125, 101, 78, 57, 40], [64, 195, 167, 141, 113, 89, 67, 47, 31, 12],
  [65, 186, 158, 131, 105, 81, 59, 41], [66, 174, 147, 121, 96, 73, 53, 37],
  [67, 179, 151, 125, 99, 75, 55, 36], [68, 191, 162, 134, 107, 82, 60, 42, 27],
  [69, 169, 141, 115, 90, 67, 48, 32], [70, 189, 161, 133, 105, 81, 59, 41, 24],
  [71, 176, 146, 119, 93, 70, 50, 34], [72, 173, 143, 115, 89, 65, 47, 31],
];
const bareUpperRows: Row[] = [
  [12, 198, 161, 141, 122], [13, 193, 175, 156, 137], [14, 200, 185, 166, 146, 126], [15, 191, 174, 154, 133],
  [16, 199, 186, 168, 148, 127], [17, 193, 176, 158, 138], [18, 200, 183, 164, 144, 124], [19, 192, 175, 156, 135, 115],
  [20, 199, 186, 168, 148, 128], [21, 193, 176, 156, 135, 113], [22, 200, 184, 165, 145, 125], [23, 192, 174, 155, 134, 112],
  [24, 199, 187, 168, 147, 127], [25, 191, 175, 155, 133, 110], [26, 198, 183, 164, 143, 122], [27, 192, 174, 152, 130, 108],
  [28, 199, 178, 155, 132, 110], [29, 200, 185, 164, 142, 120], [30, 190, 168, 146, 124, 102], [31, 197, 179, 160, 138, 116],
  [32, 192, 171, 150, 128, 106], [33, 200, 186, 165, 142, 120], [34, 197, 181, 161, 139, 117], [35, 191, 172, 149, 126, 103],
  [36, 194, 170, 147, 124], [37, 199, 178, 156, 134, 112], [38, 200, 182, 160, 137, 114], [39, 189, 168, 144, 120],
  [40, 192, 170, 145, 121, 97], [41, 196, 176, 152, 129, 105], [42, 188, 162, 138, 114], [43, 199, 178, 156, 132, 109],
  [44, 191, 167, 143, 118], [45, 196, 174, 151, 127, 103], [46, 189, 166, 141, 117], [47, 200, 181, 157, 132, 108],
  [48, 186, 160, 135, 111], [49, 197, 175, 151, 126, 102], [50, 190, 164, 139, 113], [51, 194, 171, 146, 121, 97],
  [52, 186, 161, 136, 110], [53, 199, 178, 153, 128, 104], [54, 193, 168, 143, 118], [55, 197, 173, 148, 123, 98],
  [56, 184, 159, 133, 108], [57, 198, 175, 150, 126, 101], [58, 188, 162, 137, 111], [59, 194, 170, 145, 120, 95],
  [60, 183, 156, 130, 104], [61, 196, 171, 146, 120], [62, 189, 163, 138, 112, 87], [63, 197, 173, 147, 121],
  [64, 186, 159, 133, 106], [65, 194, 168, 143, 117, 92], [66, 181, 155, 129, 104], [67, 190, 164, 138, 112],
  [68, 177, 151, 125, 99], [69, 193, 166, 140, 114, 89], [70, 176, 148, 121, 95], [71, 189, 162, 135, 109],
  [72, 193, 157, 129, 101],
];

// Power-law fits I = a·D^b for each panel
const urbFitNames = ['Urb2 I =   ', 'Urb1 I =   ', 'Urb0 I = ', 'Urb2 I =   ', 'Urb1 I =   ', 'Urb0 I = '];
const urbFitCoef = [37.79, 41.49, 127.04, 76.04, 79.94, 110.08];
const urbFitExp = [-0.10, -0.25, -0.49, -0.53, -0.57, -0.64];
const urbFitConf = [95, 95, 95, 99, 99, 99];

const typeFitNames = ['Planned   I = ', 'Unplanned I = ', 'Planned   I = ', 'Unplanned I = '];
const typeFitCoef = [48.80, 31.94, 26.97, 21.42];
const typeFitExp = [-0.19, -0.10, -0.21, -0.22];
const typeFitConf = [95, 95, 99, 99];

const leakFitNames = ['No leakage I = ', 'Leakage   I = ', 'No leakage I = ', 'Leakage   I = '];
const leakFitCoef = [40.52, 31.94, 74.07, 21.42];
const leakFitExp = [-0.14, -0.10, -0.54, -0.22];
const leakFitConf = [95, 95, 99, 99];

const vegFitNames = ['Veg  I = ', 'Bare I = ', 'Veg  I = ', 'Bare I = '];
const vegFitCoef = [48.80, 39.15, 26.97, 23.10];
const vegFitExp = [-0.19, -0.13, -0.21, -0.17];
const vegFitConf = [95, 95, 99, 99];

const D_MIN = 1;
const D_MAX = 72;

const expand = (rows: Row[]) =>
  rows.flatMap(([d, ...vals]) => vals.map((v) => ({ x: d, y: v })));

interface Fit {
  name: string;
  coef: number;
  exp: number;
  conf: number;
  color: string;
  keyColor: string;
  dashed: boolean;
}

// clouds are listed top-most first
interface Cloud {
  points: { x: number; y: number }[];
  color: string;
  ring: boolean;
}

interface Panel {
  title: string;
  box: { left: number; top: number; width: number; height: number };
  area: { left: number; top: number; right: number; bottom: number };
  showY: boolean;
  fits: Fit[];
  clouds: Cloud[];
  keySpacing: number;
  confX: number;
}

const makeFits = (
  names: string[], coef: number[], exp: number[], conf: number[],
  colors: string[], keyColors: string[],
): Fit[] =>
  names.map((name, i) => ({
    name, coef: coef[i], exp: exp[i], conf: conf[i],
    color: colors[i], keyColor: keyColors[i], dashed: conf[i] === 95,
  }));

const panels: Panel[] = [
  {
    title: '(a) Urbanisation evolution',
    box: { left: 0, top: 0, width: 338, height: 262 },
    area: { left: 37, top: 12, right: 331, bottom: 240 },
    showY: true,
    fits: makeFits(urbFitNames, urbFitCoef, urbFitExp, urbFitConf,
      [RED, BLUE, GREEN, RED, BLUE, GREEN], [RED, BLUE, GREEN, RED, BLUE, GREEN]),
    clouds: [
      { points: expand(urb2Rows), color: RED, ring: false },
      { points: expand([...urb1Rows, ...urb1UpperRows]), color: BLUE, ring: false },
      { points: expand([...urb0Rows, ...urb0UpperRows]), color: GREEN, ring: false },
    ],
    keySpacing: 17.5,
    confX: 176,
  },
  {
    title: '(b) Urbanisation type',
    box: { left: 338, top: 0, width: 339, height: 262 },
    area: { left: 38, top: 12, right: 332, bottom: 240 },
    showY: false,
    fits: makeFits(typeFitNames, typeFitCoef, typeFitExp, typeFitConf,
      [BLUE, RED, BLUE, RED], [BLUE, RED, BLUE, RED]),
    clouds: [
      { points: expand([...plannedRows, ...plannedUpperRows]), color: BLUE, ring: true },
      { points: expand([...unplannedRows, ...unplannedUpperRows]), color: RED, ring: false },
    ],
    keySpacing: 17,
    confX: 193,
  },
  {
    title: '(c) Leakage',
    box: { left: 0, top: 262, width: 338, height: 280 },
    area: { left: 37, top: 15, right: 331, bottom: 245 },
    showY: true,
    fits: makeFits(leakFitNames, leakFitCoef, leakFitExp, leakFitConf,
      [BLUE, RED, BLUE, RED], [BLUE, RED, '#000000', RED]),
    clouds: [
      { points: expand([...leakBothRows, ...leakBothUpperRows, ...leakOnlyRows]), color: RED, ring: false },
      { points: expand([...leakBothRows, ...leakBothUpperRows, ...noLeakOnlyRows]), color: BLUE, ring: true },
    ],
    keySpacing: 17,
    confX: 192,
  },
  {
    title: '(d) Vegetation',
    box: { left: 338, top: 262, width: 339, height: 280 },
    area: { left: 38, top: 15, right: 332, bottom: 245 },
    showY: false,
    fits: makeFits(vegFitNames, vegFitCoef, vegFitExp, vegFitConf,
      [BLUE, RED, BLUE, RED], [BLUE, RED, '#000000', RED]),
    clouds: [
      { points: expand([...bareRows, ...bareUpperRows]), color: RED, ring: false },
      { points: expand(vegRows), color: BLUE, ring: true },
    ],
    keySpacing: 17,
    confX: 161,
  },
];

// Box, inward ticks, title and the fit key drawn over the plot area
const panelDecor = (p: Panel) => ({
  id: 'panelDecor',
  afterDraw(chart: Chart) {
    const ctx = chart.ctx;
    const { left, right, top, bottom } = chart.chartArea;
    const xs = chart.scales.x;
    const ys = chart.scales.y;
    ctx.save();
    ctx.strokeStyle = FRAME;
    ctx.lineWidth = 1;
    ctx.setLineDash([]);
    ctx.beginPath();
    ctx.rect(Math.round(left) + 0.5, Math.round(top) + 0.5, Math.round(right - left) - 1, Math.round(bottom - top) - 1);
    ctx.stroke();
    const tl = 3;
    ctx.beginPath();
    durationMarks.forEach((v) => {
      const x = Math.round(xs.getPixelForValue(v)) + 0.5;
      ctx.moveTo(x, bottom);
      ctx.lineTo(x, bottom - tl);
      ctx.moveTo(x, top);
      ctx.lineTo(x, top + tl);
    });
    intensityMarks.forEach((v) => {
      const y = Math.round(ys.getPixelForValue(v)) + 0.5;
      ctx.moveTo(left, y);
      ctx.lineTo(left + tl, y);
      ctx.moveTo(right, y);
      ctx.lineTo(right - tl, y);
    });
    ctx.stroke();

    // title
    ctx.fillStyle = '#000';
    ctx.font = `bold 11px ${FONT}`;
    ctx.textAlign = 'center';
    ctx.textBaseline = 'middle';
    ctx.fillText(p.title, (left + right) / 2, top - 6.5);

    // fit key: sample line (solid or dashed) then the equation text
    const n = p.fits.length;
    ctx.textAlign = 'left';
    p.fits.forEach((f, i) => {
      const y = bottom - 20 - (n - 1 - i) * p.keySpacing;
      const ly = Math.round(y);
      const x0 = Math.round(left + 15);
      const x1 = Math.round(left + 58);
      ctx.fillStyle = f.keyColor;
      if (f.dashed) {
        for (let x = x0; x < x1; x += 8) ctx.fillRect(x, ly, Math.min(5, x1 - x), 1);
      } else {
        ctx.fillRect(x0, ly, x1 - x0, 1);
      }
      ctx.fillStyle = '#111';
      ctx.font = `11px ${FONT}`;
      const main = `${f.name}${f.coef.toFixed(2)}D`;
      const tx = left + 61;
      ctx.fillText(main, tx, y);
      const w = ctx.measureText(main).width;
      ctx.font = `8px ${FONT}`;
      ctx.fillText(f.exp.toFixed(2), tx + w + 0.5, y - 4.5);
      ctx.font = `11px ${FONT}`;
      ctx.fillText(`(${f.conf}%)`, left + p.confX, y);
    });
    ctx.restore();
  },
});

function PanelChart({ p }: { p: Panel }) {
  const ref = useRef<HTMLCanvasElement | null>(null);
  useEffect(() => {
    if (!ref.current) return;
    const lineSets = p.fits.map((f) => ({
      data: [
        { x: D_MIN, y: f.coef * Math.pow(D_MIN, f.exp) },
        { x: D_MAX, y: f.coef * Math.pow(D_MAX, f.exp) },
      ],
      showLine: true,
      borderColor: f.color,
      borderWidth: 1,
      borderDash: f.dashed ? [5, 3] : [],
      pointRadius: 0,
      fill: false,
    }));
    const cloudSets = p.clouds.map((c) => ({
      data: c.points,
      showLine: false,
      pointStyle: 'circle',
      pointRadius: c.ring ? 2.3 : 1.6,
      pointBorderWidth: c.ring ? 0.9 : 0,
      pointBackgroundColor: c.ring ? 'rgba(0,0,0,0)' : c.color,
      pointBorderColor: c.color,
      clip: 3,
    }));
    const tickFont = { family: FONT, size: 11 };
    const chart = new Chart(ref.current, {
      type: 'scatter',
      data: { datasets: [...lineSets, ...cloudSets] as any },
      options: {
        animation: false,
        responsive: false,
        devicePixelRatio: 1,
        events: [],
        layout: { padding: { left: 0, top: p.area.top, right: p.box.width - p.area.right, bottom: 0 } },
        plugins: { legend: { display: false }, tooltip: { enabled: false }, title: { display: false } },
        scales: {
          x: {
            type: 'logarithmic',
            min: D_MIN,
            max: D_MAX,
            afterBuildTicks: (s: any) => { s.ticks = durationTicks.map((v) => ({ value: v })); },
            afterFit: (s: any) => { s.height = p.box.height - p.area.bottom; },
            ticks: { autoSkip: false, maxRotation: 0, padding: 2, color: TEXT, font: tickFont, callback: (v: any) => String(v) },
            grid: { display: false, drawTicks: false },
            border: { display: false },
          },
          y: {
            type: 'logarithmic',
            min: 1,
            max: 200,
            afterBuildTicks: (s: any) => { s.ticks = intensityTicks.map((v) => ({ value: v })); },
            afterFit: (s: any) => { s.width = p.area.left; },
            ticks: { display: p.showY, autoSkip: false, padding: 4, color: TEXT, font: tickFont, callback: (v: any) => String(v) },
            grid: { display: false, drawTicks: false },
            border: { display: false },
          },
        },
      } as any,
      plugins: [panelDecor(p)],
    });
    return () => chart.destroy();
  }, [p]);
  return (
    <canvas
      ref={ref}
      width={p.box.width}
      height={p.box.height}
      style={{ position: 'absolute', left: p.box.left, top: p.box.top, width: p.box.width, height: p.box.height }}
    />
  );
}

export default function App() {
  return (
    <div style={{ position: 'fixed', left: 0, top: 0, width: 677, height: 542, background: '#fff', fontFamily: FONT, overflow: 'hidden' }}>
      {panels.map((p) => <PanelChart key={p.title} p={p} />)}
      <div style={{ position: 'absolute', left: 5, top: 260, transform: 'translate(-50%, -50%) rotate(-90deg)', fontSize: 11, color: TEXT, whiteSpace: 'nowrap' }}>
        Rainfall intensity (mm/hr)
      </div>
      <div style={{ position: 'absolute', left: 354, top: 533, transform: 'translate(-50%, -50%)', fontSize: 11, color: TEXT, whiteSpace: 'nowrap' }}>
        Effective duration (hrs)
      </div>
    </div>
  );
}
